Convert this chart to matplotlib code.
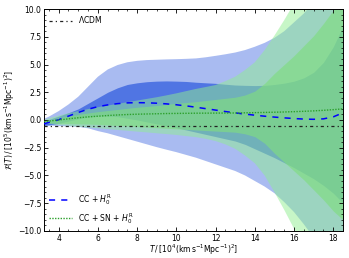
import matplotlib
matplotlib.use("Agg")
import matplotlib.pyplot as plt
from matplotlib.ticker import MultipleLocator

# T grid (in 10^4 (km s^-1 Mpc^-1)^2)
T = [3.25, 3.5, 4, 4.5, 5, 5.5, 6, 6.5, 7, 7.5, 8, 8.5, 9, 9.5, 10, 10.5,
     11, 11.5, 12, 12.5, 13, 13.5, 14, 14.5, 15, 15.5, 16, 16.5, 17, 17.5, 18, 18.5]

# CC + H0^R reconstruction (blue)
blue_mean = [-0.35, -0.22, 0.02, 0.35, 0.68, 0.97, 1.2, 1.36, 1.47, 1.54, 1.56, 1.55, 1.51, 1.45, 1.37, 1.27,
             1.15, 1.02, 0.89, 0.76, 0.64, 0.53, 0.43, 0.34, 0.26, 0.19, 0.13, 0.08, 0.06, 0.1, 0.28, 0.65]
blue_hi1 = [-0.1, 0.05, 0.35, 0.65, 1.0, 1.5, 2.0, 2.5, 2.9, 3.2, 3.35, 3.45, 3.5, 3.52, 3.5, 3.47,
            3.4, 3.35, 3.3, 3.22, 3.15, 3.12, 3.1, 3.12, 3.2, 3.32, 3.5, 3.8, 4.3, 5.2, 6.6, 8.5]
blue_lo1 = [-0.5, -0.45, -0.3, -0.1, 0.1, 0.25, 0.35, 0.35, 0.3, 0.15, 0.0, -0.18, -0.35, -0.52, -0.7, -0.9,
            -1.1, -1.3, -1.5, -1.7, -1.9, -2.2, -2.6, -3.0, -3.4, -3.85, -4.3, -4.8, -5.3, -5.9, -6.6, -7.5]
blue_hi2 = [0.1, 0.3, 0.8, 1.4, 2.1, 3.0, 3.9, 4.55, 4.95, 5.2, 5.33, 5.4, 5.43, 5.46, 5.48, 5.51,
            5.55, 5.65, 5.78, 5.92, 6.08, 6.3, 6.6, 6.95, 7.4, 8.0, 8.8, 9.6, 10.6, 11.6, 12.8, 14.0]
blue_lo2 = [-0.5, -0.5, -0.55, -0.58, -0.62, -0.75, -1.0, -1.2, -1.45, -1.7, -1.95, -2.2, -2.45, -2.68, -2.9, -3.15,
            -3.4, -3.7, -4.0, -4.3, -4.6, -5.0, -5.5, -6.0, -6.6, -7.4, -8.3, -9.4, -10.6, -12.0, -13.5, -15.0]

# CC + SN + H0^R reconstruction (green)
green_mean = [-0.15, -0.1, 0.0, 0.1, 0.2, 0.28, 0.34, 0.4, 0.45, 0.49, 0.52, 0.54, 0.56, 0.58, 0.59, 0.6,
              0.61, 0.615, 0.62, 0.625, 0.63, 0.645, 0.66, 0.68, 0.7, 0.72, 0.75, 0.78, 0.82, 0.87, 0.93, 1.0]
green_hi1 = [-0.1, -0.02, 0.2, 0.35, 0.5, 0.63, 0.75, 0.85, 0.95, 1.05, 1.15, 1.22, 1.3, 1.4, 1.5, 1.57,
             1.65, 1.75, 1.85, 1.95, 2.05, 2.25, 2.6, 3.3, 4.2, 5.0, 5.8, 6.7, 7.6, 8.7, 9.9, 11.2]
green_lo1 = [-0.25, -0.27, -0.3, -0.32, -0.35, -0.37, -0.4, -0.45, -0.5, -0.55, -0.6, -0.65, -0.7, -0.75, -0.8, -0.85,
             -0.9, -0.95, -1.0, -1.05, -1.1, -1.25, -1.5, -2.1, -3.0, -3.8, -4.6, -5.4, -6.3, -7.2, -8.2, -9.0]
green_hi2 = [0.0, 0.15, 0.4, 0.6, 0.8, 0.98, 1.15, 1.3, 1.45, 1.6, 1.75, 1.9, 2.05, 2.22, 2.4, 2.6,
             2.8, 2.97, 3.15, 3.5, 3.9, 4.5, 5.2, 6.3, 7.6, 9.0, 10.5, 12.0, 13.5, 15.2, 17.0, 18.0]
green_lo2 = [-0.3, -0.35, -0.45, -0.52, -0.6, -0.68, -0.75, -0.82, -0.9, -0.97, -1.05, -1.12, -1.2, -1.27, -1.35, -1.45,
             -1.55, -1.7, -1.9, -2.2, -2.6, -3.2, -3.9, -5.0, -6.5, -8.1, -9.8, -11.4, -13.0, -15.0, -17.0, -18.0]

# LCDM constant
lcdm_value = -0.5

x_ticks = [4, 6, 8, 10, 12, 14, 16, 18]
y_ticks = [-10.0, -7.5, -5.0, -2.5, 0.0, 2.5, 5.0, 7.5, 10.0]

plt.rcParams['font.family'] = ['DejaVu Sans']
plt.rcParams['mathtext.fontset'] = 'dejavusans'

fig = plt.figure(figsize=(3.49, 2.58), dpi=100)
ax = fig.add_axes([0.126, 0.105, 0.857, 0.86])

ax.fill_between(T, blue_lo2, blue_hi2, color='royalblue', alpha=0.45, lw=0, zorder=1)
ax.fill_between(T, blue_lo1, blue_hi1, color='royalblue', alpha=0.85, lw=0, zorder=1.1)
ax.fill_between(T, green_lo2, green_hi2, color='lightgreen', alpha=0.5, lw=0, zorder=1.2)
ax.fill_between(T, green_lo1, green_hi1, color='#80dd80', alpha=0.65, lw=0, zorder=1.3)

l_lcdm, = ax.plot([T[0], T[-1]], [lcdm_value, lcdm_value], color='#222222', lw=0.9,
                  linestyle=(0, (2.5, 2.5, 1, 2.5)), zorder=3, label=r'$\Lambda$CDM')
l_blue, = ax.plot(T, blue_mean, color='blue', lw=1.1, linestyle=(0, (4, 4)), zorder=3,
                  label=r'CC + $H_0^{\rm R}$')
l_green, = ax.plot(T, green_mean, color='#2ca02c', lw=1.0, linestyle=(0, (1, 1)), zorder=3,
                   label=r'CC + SN + $H_0^{\rm R}$')

ax.set_xlim(3.25, 18.5)
ax.set_ylim(-10, 10)
ax.set_xticks(x_ticks)
ax.set_yticks(y_ticks)
ax.set_yticklabels([f"{v:.1f}".replace('-', '\u2212') for v in y_ticks])
ax.xaxis.set_minor_locator(MultipleLocator(0.5))
ax.yaxis.set_minor_locator(MultipleLocator(0.5))
ax.tick_params(which='both', direction='in', top=True, right=True, labelsize=5.5)
ax.tick_params(which='major', length=3, width=0.6, pad=2)
ax.tick_params(which='minor', length=1.5, width=0.5)
for s in ax.spines.values():
    s.set_linewidth(0.7)

ax.set_xlabel(r'$T\,/\,[10^4({\rm km\,s^{-1}Mpc^{-1}})^2]$', fontsize=5.5, labelpad=0)
ax.set_ylabel(r'$\mathcal{F}(T)\,/\,[10^5({\rm km\,s^{-1}Mpc^{-1}})^2]$', fontsize=5.5, labelpad=1)

leg1 = ax.legend(handles=[l_lcdm], loc='upper left', frameon=False, fontsize=5.5,
                 handlelength=3, borderaxespad=0.3)
ax.add_artist(leg1)
ax.legend(handles=[l_blue, l_green], loc='lower left', frameon=False, fontsize=5.5,
          handlelength=3, borderaxespad=0.3)

fig.savefig('out.png', dpi=100)
